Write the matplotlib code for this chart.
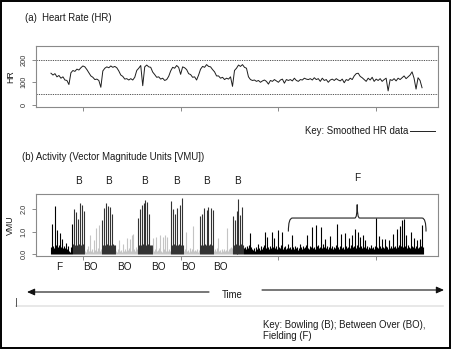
import numpy as np
import matplotlib
matplotlib.use("Agg")
import matplotlib.pyplot as plt
from matplotlib import transforms
from matplotlib.patches import Rectangle, PathPatch
from matplotlib.path import Path

plt.rcParams["font.family"] = ["Liberation Sans", "DejaVu Sans"]

# ---------------------------------------------------------------- data
# smoothed heart rate, one value per minute (beats per minute)
hr_bpm = [
    140, 132, 138, 124, 130, 118, 124, 110, 108, 90,
    142, 152, 148, 158, 154, 164, 172, 168, 156, 142,
    128, 122, 112, 114, 108, 78, 150, 162, 168, 164,
    172, 166, 170, 164, 150, 132, 126, 114, 116, 110,
    116, 110, 122, 152, 162, 174, 85, 168, 176, 168,
    166, 145, 134, 122, 124, 114, 118, 108, 112, 126,
    150, 166, 162, 174, 166, 135, 168, 164, 156, 138,
    134, 122, 124, 110, 132, 158, 170, 166, 178, 170,
    168, 156, 146, 128, 128, 118, 122, 112, 118, 114,
    124, 82, 152, 162, 176, 170, 178, 166, 162, 124,
    112, 108, 110, 104, 108, 100, 106, 110, 104, 92,
    108, 104, 112, 106, 100, 110, 114, 96, 112, 108,
    112, 106, 118, 108, 104, 112, 110, 118, 114, 112,
    116, 110, 120, 112, 116, 104, 118, 108, 112, 100,
    110, 114, 108, 116, 110, 106, 114, 98, 112, 108,
    118, 112, 128, 138, 140, 126, 120, 112, 104, 118,
    110, 122, 104, 114, 108, 116, 104, 112, 118, 62,
    112, 108, 116, 106, 118, 112, 120, 128, 116, 124,
    132, 146, 118, 70, 120, 108, 76,
]
hr_ticks = [0, 100, 200]
hr_limits = [50, 200]

# activity in vector magnitude units, two samples per minute, by phase
vmu_f1 = [0.30, 1.35, 0.35, 0.28, 2.15, 0.40, 1.05, 0.32, 0.38, 0.95, 0.30,
          0.65, 0.25, 0.35, 0.28, 0.50, 0.22, 0.35, 0.15, 0.10, 0.30, 1.35]
vmu_b1 = [0.45, 2.00, 0.42, 1.85, 0.40, 1.55, 0.45, 2.25, 0.40, 2.20, 0.45, 1.90]
vmu_bo1 = [0.15, 0.10, 0.20, 0.35, 0.12, 0.85, 0.15, 0.20, 0.10, 0.60, 0.18,
           1.15, 0.12, 0.25, 1.30, 0.15, 0.20]
vmu_b2 = [1.50, 0.42, 2.05, 0.40, 2.25, 0.45, 2.15, 0.42, 2.10, 0.40, 1.80,
          0.45, 0.42, 0.40]
vmu_bo2 = [0.15, 0.10, 0.20, 0.60, 0.12, 0.18, 0.10, 0.45, 0.15, 0.20, 0.12,
           0.70, 0.18, 0.25, 0.65, 0.15, 0.85, 0.90, 0.20, 0.15, 0.30, 0.20]
vmu_b3 = [1.60, 0.42, 2.00, 0.40, 2.20, 0.45, 2.25, 2.40, 0.42, 2.30, 0.45,
          1.80, 0.40, 0.42, 0.38]
vmu_bo3 = [0.70, 0.15, 0.20, 0.75, 0.12, 0.18, 0.25, 0.85, 0.15, 0.10, 0.75,
           0.20, 0.85, 0.15, 0.75, 0.12, 0.20, 0.15]
vmu_b4 = [2.35, 0.42, 2.00, 0.45, 1.80, 0.40, 2.05, 0.42, 0.45, 2.20, 0.40,
          2.50, 0.42]
vmu_bo4 = [0.15, 0.20, 1.00, 0.12, 0.18, 0.10, 0.25, 0.15, 0.20, 1.25, 0.12,
           0.18, 0.15, 0.22, 0.10, 0.18]
vmu_b5 = [1.70, 0.42, 1.80, 0.40, 2.05, 0.45, 0.42, 1.95, 2.10, 0.40, 0.45,
          2.05, 0.42, 1.95]
vmu_bo5 = [0.15, 0.20, 0.12, 0.25, 0.70, 0.15, 0.18, 0.10, 0.20, 0.15, 0.22,
           0.12, 0.18, 1.15, 0.15, 0.20, 0.25, 0.30, 0.28]
vmu_b6 = [1.70, 0.42, 1.50, 0.45, 1.90, 0.42, 2.45, 0.40, 1.75, 0.45, 2.10, 0.42]
vmu_f2 = [
    0.25, 0.30, 0.20, 0.35, 0.28, 0.40, 0.92, 0.30, 0.22, 0.18,
    0.25, 0.15, 0.30, 0.20, 0.45, 0.28, 0.18, 0.35, 0.22, 0.30,
    0.40, 1.00, 0.25, 0.75, 0.30, 0.20, 0.35, 0.28, 1.00, 0.30,
    0.70, 0.25, 0.35, 0.20, 1.05, 0.30, 0.25, 0.40, 1.00, 0.22,
    0.30, 0.35, 0.20, 0.28, 0.45, 0.25, 0.30, 0.22, 0.85, 0.30,
    0.20, 0.35, 0.25, 0.30, 0.18, 0.28, 0.45, 0.30, 0.22, 0.35,
    0.25, 0.30, 0.40, 0.85, 0.28, 0.20, 0.35, 0.30, 1.20, 0.25,
    0.30, 0.22, 1.30, 0.35, 0.40, 0.25, 0.30, 1.20, 0.28, 0.45,
    0.30, 0.65, 0.25, 0.35, 0.20, 0.30, 0.80, 0.28, 0.35, 0.22,
    0.30, 0.25, 0.40, 1.35, 0.30, 0.22, 0.35, 0.90, 0.28, 0.30,
    0.20, 0.95, 0.35, 0.25, 0.30, 0.70, 0.28, 0.40, 0.85, 0.30,
    0.35, 1.10, 0.25, 0.40, 1.00, 0.30, 0.75, 0.35, 0.28, 0.85,
    0.30, 0.60, 0.25, 0.35, 0.20, 0.30, 0.28, 0.40, 0.25, 0.30,
    0.22, 0.35, 1.62, 0.30, 0.25, 0.80, 0.35, 0.28, 0.65, 0.30,
    0.25, 0.65, 0.35, 0.30, 0.22, 0.60, 0.28, 0.35, 0.25, 0.90,
    0.30, 0.35, 0.25, 1.10, 0.30, 0.40, 1.25, 0.35, 1.50, 0.30,
    1.55, 0.35, 0.85, 0.28, 0.40, 0.30, 0.25, 1.00, 0.35, 0.30,
    0.70, 0.28, 0.35, 0.60, 0.25, 0.30, 0.65, 0.35, 1.30, 0.30,
]
phase_labels = ["F", "B", "BO", "B", "BO", "B", "BO", "B", "BO", "B", "BO", "B", "F"]
phase_values = [vmu_f1, vmu_b1, vmu_bo1, vmu_b2, vmu_bo2, vmu_b3, vmu_bo3,
                vmu_b4, vmu_bo4, vmu_b5, vmu_bo5, vmu_b6, vmu_f2]
vmu_ticks = [0.0, 1.0, 2.0]
time_ticks = [16, 65, 114, 163]

# ---------------------------------------------------------------- style
W, H = 452, 349
PHASE_COLORS = {"F": "#000000", "B": "#333333", "BO": "#c4c4c4"}
SPINE = "#8a8a8a"
TXT = "#1a1a1a"
FS = 6.9
HR_STEP = 1.0
VMU_STEP = 0.5
XLIM = (-7.5, 194.0)

fig = plt.figure(figsize=(W / 100, H / 100), dpi=100)

# full-figure layer in pixel units for captions, arrows and frame
bg = fig.add_axes([0, 0, 1, 1])
bg.set_xlim(0, W)
bg.set_ylim(H, 0)
bg.axis("off")


def px_axes(left, top, right, bottom):
    return fig.add_axes([left / W, 1 - bottom / H, (right - left) / W, (bottom - top) / H])


def style_axes(ax, yticks, ylabels):
    for s in ax.spines.values():
        s.set_color(SPINE)
        s.set_linewidth(0.8)
    ax.set_xlim(*XLIM)
    ax.set_xticks(time_ticks)
    ax.set_xticklabels([])
    ax.set_yticks(yticks)
    ax.set_yticklabels(ylabels, rotation=90, va="center", fontsize=5.3)
    ax.tick_params(axis="both", colors=SPINE, length=3, width=0.7, pad=3)
    ax.tick_params(axis="y", labelcolor="#333333")


# ---------------------------------------------------------------- (a) heart rate
ax1 = px_axes(36, 46, 438, 107)
t_hr = np.arange(len(hr_bpm)) * HR_STEP
ax1.plot(t_hr, hr_bpm, color="#1e1e1e", lw=0.7)
for lim in hr_limits:
    ax1.axhline(lim, color="#555555", lw=0.7, ls=(0, (1.3, 1.1)))
ax1.set_ylim(-9, 260)
style_axes(ax1, hr_ticks, [str(v) for v in hr_ticks])
ax1.set_ylabel("HR", fontsize=6.3, labelpad=4, color=TXT)

# ---------------------------------------------------------------- (b) activity
ax2 = px_axes(36, 194, 438, 256)
start = 0.0
phase_spans = []
for lab, vals in zip(phase_labels, phase_values):
    t = start + np.arange(len(vals)) * VMU_STEP
    ax2.vlines(t, 0, vals, colors=PHASE_COLORS[lab], lw=0.8)
    phase_spans.append((lab, t[0], t[-1]))
    start = t[-1] + VMU_STEP
ax2.set_ylim(-0.09, 2.67)
style_axes(ax2, vmu_ticks, ["%.1f" % v for v in vmu_ticks])
ax2.set_ylabel("VMU", fontsize=6.3, labelpad=4, color=TXT)

# phase labels: bowling above the trace, between overs / fielding below
above = transforms.blended_transform_factory(ax2.transData, bg.transData)
last = len(phase_spans) - 1
for k, (lab, t0, t1) in enumerate(phase_spans):
    mid = 0.5 * (t0 + t1)
    if lab == "B":
        bg.text(mid, 181, lab, transform=above, ha="center", va="center", fontsize=7.2, color=TXT)
    elif k != last:
        bg.text(mid - 1.2, 267, lab, transform=above, ha="center", va="center", fontsize=7.2,
                color=TXT)

# brace over the long fielding spell
_, f0, f1 = phase_spans[last]
b0, b1 = f0 + 22, f1 + 1.5
bm = 0.5 * (b0 + b1)
ylo, yb, ytop = 1.0, 1.6, 2.2
verts = [(b0, ylo), (b0, yb), (b0 + 2, yb),
         (bm - 1.2, yb), (bm, yb), (bm, ytop),
         (bm, yb), (bm + 1.2, yb),
         (b1 - 2, yb), (b1, yb), (b1, ylo)]
codes = [Path.MOVETO, Path.CURVE3, Path.CURVE3,
         Path.LINETO, Path.CURVE3, Path.CURVE3,
         Path.CURVE3, Path.CURVE3,
         Path.LINETO, Path.CURVE3, Path.CURVE3]
ax2.add_patch(PathPatch(Path(verts, codes), fill=False, ec="#222222", lw=0.8, clip_on=False))
bg.text(bm, 178, "F", transform=above, ha="center", va="center", fontsize=7.2, color=TXT)

# ---------------------------------------------------------------- captions
bg.text(25, 18, "(a)  Heart Rate (HR)", ha="left", va="center", fontsize=FS, color=TXT)
bg.text(305, 131, "Key: Smoothed HR data", ha="left", va="center", fontsize=FS, color=TXT)
bg.plot([410, 435], [131, 131], color="#222222", lw=0.7)
bg.text(22, 157, "(b) Activity (Vector Magnitude Units [VMU])", ha="left", va="center",
        fontsize=FS, color=TXT)

# time arrows
arrow_kw = dict(arrowstyle="-|>,head_length=0.45,head_width=0.2", color="#111111", lw=0.8,
                shrinkA=0, shrinkB=0)
bg.annotate("", xy=(27, 292), xytext=(209, 292), arrowprops=arrow_kw)
bg.annotate("", xy=(444, 290), xytext=(262, 290), arrowprops=arrow_kw)
bg.text(232, 295, "Time", ha="center", va="center", fontsize=FS, color=TXT)
bg.plot([16, 443], [305.5, 305.5], color="#e4e4e4", lw=1.2)
bg.plot([16, 16], [298, 306], color="#555555", lw=0.7)

bg.text(263, 325, "Key: Bowling (B); Between Over (BO),", ha="left", va="center",
        fontsize=FS, color=TXT)
bg.text(263, 336, "Fielding (F)", ha="left", va="center", fontsize=FS, color=TXT)

# outer frame
bg.add_patch(Rectangle((1, 1), W - 2.5, H - 2.5, fill=False, ec="black", lw=1.4))

fig.savefig("out.png", dpi=100)
